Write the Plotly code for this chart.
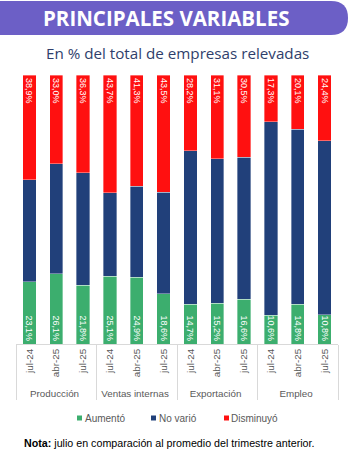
import plotly.graph_objects as go

# ---- data ----
groups = ["Producción", "Ventas internas", "Exportación", "Empleo"]
periods = ["jul-24", "abr-25", "jul-25"]
aumento = [23.1, 26.1, 21.8, 25.1, 24.9, 18.6, 14.7, 15.2, 16.6, 10.6, 14.8, 10.8]
disminuyo = [38.9, 33.0, 36.3, 43.7, 41.3, 43.5, 28.2, 31.1, 30.5, 17.3, 20.1, 24.4]
no_vario = [round(100 - a - d, 1) for a, d in zip(aumento, disminuyo)]
series_names = ["Aumentó", "No varió", "Disminuyó"]
colors = ["#3cae6e", "#21407a", "#ff1010"]

xg = [g for g in groups for _ in periods]
xp = [p for _ in groups for p in periods]

def fmt(v):
    return f"{v:.1f}".replace(".", ",") + "%"

W, H = 349, 460
L, R, T, B = 16, 11, 75, 116
PW, PH = W - L - R, H - T - B

def px(x):
    return (x - L) / PW

def py(y):
    return (H - B - y) / PH

fig = go.Figure()
line = dict(color="rgba(255,255,255,0.45)", width=0.8)
lblfont = dict(color="white", size=9, family="Liberation Sans")
fig.add_trace(go.Bar(x=[xg, xp], y=aumento, name=series_names[0], marker=dict(color=colors[0], line=line),
                     text=[fmt(v) for v in aumento], textposition="inside", insidetextanchor="start",
                     textangle=90, textfont=lblfont))
fig.add_trace(go.Bar(x=[xg, xp], y=no_vario, name=series_names[1], marker=dict(color=colors[1], line=line)))
fig.add_trace(go.Bar(x=[xg, xp], y=disminuyo, name=series_names[2], marker=dict(color=colors[2], line=line),
                     text=[fmt(v) for v in disminuyo], textposition="inside", insidetextanchor="end",
                     textangle=90, textfont=lblfont))

shapes = []
# banner
x0, yt, yb, r = px(0), py(1), py(35), 17
xr = px(348); xrr = px(348 - r); ym = py(18)
path = (f"M{x0},{yt} L{xrr},{yt} Q{xr},{yt} {xr},{ym} Q{xr},{yb} {xrr},{yb} L{x0},{yb} Z")
shapes.append(dict(type="path", xref="paper", yref="paper", path=path,
                   fillcolor="#6c5fc6", line=dict(width=0), layer="below"))

annotations = [
    dict(text="<b>PRINCIPALES VARIABLES</b>", x=px(166), y=py(18), xref="paper", yref="paper",
         showarrow=False, font=dict(family="Open Sans", size=20.5, color="white"),
         xanchor="center", yanchor="middle"),
    dict(text="En % del total de empresas relevadas", x=px(178), y=py(53), xref="paper", yref="paper",
         showarrow=False, font=dict(family="Open Sans", size=15.2, color="#2f3e6b"),
         xanchor="center", yanchor="middle"),
    dict(text="<b>Nota:</b> julio en comparación al promedio del trimestre anterior.",
         x=px(22), y=py(443), xref="paper", yref="paper", showarrow=False,
         font=dict(family="Liberation Sans", size=10.7, color="black"), xanchor="left", yanchor="middle"),
]
# legend
leg_sq = [77, 151, 224]
for name, col, sx in zip(series_names, colors, leg_sq):
    shapes.append(dict(type="rect", xref="paper", yref="paper", x0=px(sx), x1=px(sx + 5),
                       y0=py(420.5), y1=py(415.5), fillcolor=col, line=dict(width=0)))
    annotations.append(dict(text=name, x=px(sx + 5.5), y=py(418), xref="paper", yref="paper",
                            showarrow=False, font=dict(family="Liberation Sans", size=10, color="#595959"),
                            xanchor="left", yanchor="middle"))

fig.update_layout(
    width=W, height=H, margin=dict(l=L, r=R, t=T, b=B, autoexpand=False),
    barmode="stack", bargap=0.5, showlegend=False,
    paper_bgcolor="white", plot_bgcolor="white",
    uniformtext=dict(minsize=9, mode="show"),
    shapes=shapes, annotations=annotations,
    xaxis=dict(type="multicategory", showline=True, linecolor="#d9d9d9", linewidth=1,
               showdividers=True, dividercolor="#d9d9d9", dividerwidth=1,
               tickangle=-90, tickfont=dict(family="Liberation Sans", size=9.8, color="#595959"),
               showgrid=False, zeroline=False, ticks=""),
    yaxis=dict(range=[0, 100], visible=False),
)
fig.write_html("out.html")
